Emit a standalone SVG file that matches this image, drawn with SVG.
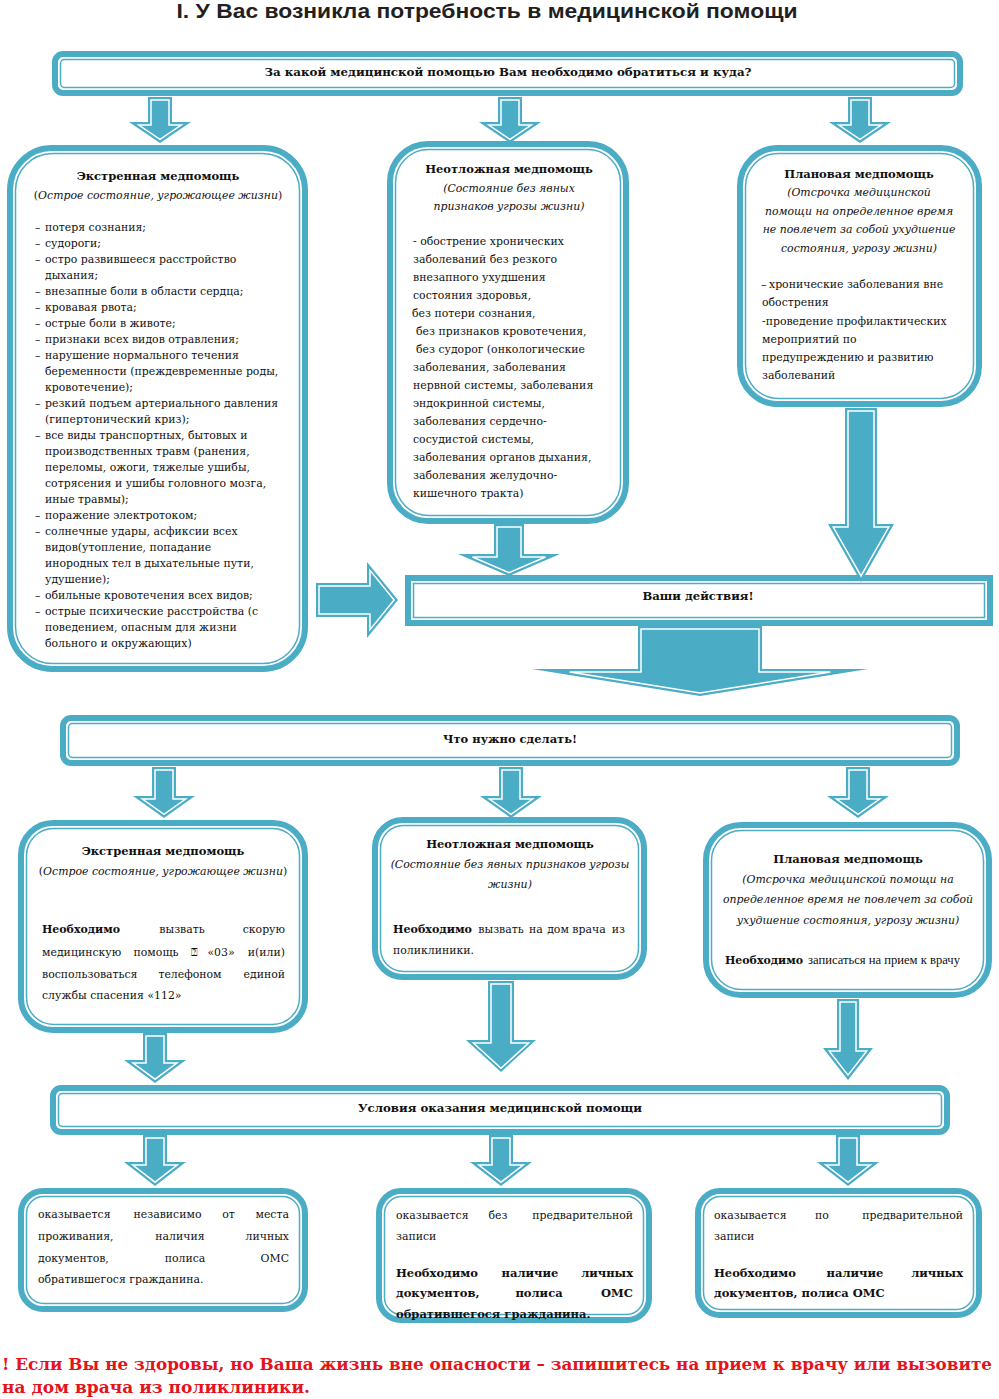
<svg xmlns="http://www.w3.org/2000/svg" width="999" height="1399" viewBox="0 0 999 1399">
<style>
.box{fill:#fff;stroke:#4BACC6;stroke-width:6}
.in{fill:none;stroke:#4BACC6;stroke-width:1.5}
.arr{fill:#4BACC6}
.ain{fill:none;stroke:#fff;stroke-width:1.5;stroke-linejoin:miter}
text{font-family:"DejaVu Serif",serif;font-size:10.9px;fill:#111}
.b{font-weight:bold;font-size:11.5px}
.i{font-style:italic}
.m{text-anchor:middle}
.e{text-anchor:end}
.h{font-weight:bold;font-size:11.8px}
.tn{font-family:"Liberation Serif",serif;font-size:12.5px}
.red{font-weight:bold;font-size:16.4px;fill:#e3141b}
.title{font-family:"Liberation Sans",Arial,sans-serif;font-weight:bold;font-size:21px;fill:#231f20}
</style>

<text class="title m" x="487" y="18" textLength="621" lengthAdjust="spacingAndGlyphs">I. У Вас возникла потребность в медицинской помощи</text>

<g id="node-top">
<rect class="box" x="55" y="54" width="905" height="39" rx="8"/>
<rect class="in" x="60.5" y="59.5" width="894" height="28" rx="4"/>
<text class="h m" x="508" y="76" textLength="487" lengthAdjust="spacingAndGlyphs">За какой медицинской помощью Вам необходимо обратиться и куда?</text>
</g>

<g id="node-emerg">
<rect class="box" x="10" y="148" width="295" height="521" rx="42"/>
<rect class="in" x="15.5" y="153.5" width="284" height="510" rx="37"/>
<text class="b m" x="158" y="180">Экстренная медпомощь</text>
<text class="m" x="158" y="199">(<tspan class="i">Острое состояние, угрожающее жизни</tspan>)</text>
<g>
<text x="35" y="230.5">–</text><text x="45" y="230.5">потеря сознания;</text>
<text x="35" y="246.5">–</text><text x="45" y="246.5">судороги;</text>
<text x="35" y="262.5">–</text><text x="45" y="262.5">остро развившееся расстройство</text>
<text x="45" y="278.5">дыхания;</text>
<text x="35" y="294.5">–</text><text x="45" y="294.5">внезапные боли в области сердца;</text>
<text x="35" y="310.5">–</text><text x="45" y="310.5">кровавая рвота;</text>
<text x="35" y="326.5">–</text><text x="45" y="326.5">острые боли в животе;</text>
<text x="35" y="342.5">–</text><text x="45" y="342.5">признаки всех видов отравления;</text>
<text x="35" y="358.5">–</text><text x="45" y="358.5">нарушение нормального течения</text>
<text x="45" y="374.5">беременности (преждевременные роды,</text>
<text x="45" y="390.5">кровотечение);</text>
<text x="35" y="406.5">–</text><text x="45" y="406.5">резкий подъем артериального давления</text>
<text x="45" y="422.5">(гипертонический криз);</text>
<text x="35" y="438.5">–</text><text x="45" y="438.5">все виды транспортных, бытовых и</text>
<text x="45" y="454.5">производственных травм (ранения,</text>
<text x="45" y="470.5">переломы, ожоги, тяжелые ушибы,</text>
<text x="45" y="486.5">сотрясения и ушибы головного мозга,</text>
<text x="45" y="502.5">иные травмы);</text>
<text x="35" y="518.5">–</text><text x="45" y="518.5">поражение электротоком;</text>
<text x="35" y="534.5">–</text><text x="45" y="534.5">солнечные удары, асфиксии всех</text>
<text x="45" y="550.5">видов(утопление, попадание</text>
<text x="45" y="566.5">инородных тел в дыхательные пути,</text>
<text x="45" y="582.5">удушение);</text>
<text x="35" y="598.5">–</text><text x="45" y="598.5">обильные кровотечения всех видов;</text>
<text x="35" y="614.5">–</text><text x="45" y="614.5">острые психические расстройства (с</text>
<text x="45" y="630.5">поведением, опасным для жизни</text>
<text x="45" y="646.5">больного и окружающих)</text>
</g>
</g>

<g id="node-urgent">
<rect class="box" x="390" y="144" width="236" height="377" rx="38"/>
<rect class="in" x="395.5" y="149.5" width="225" height="366" rx="33"/>
<text class="b m" x="509" y="173">Неотложная медпомощь</text>
<text class="i m" x="509" y="192">(Состояние без явных</text>
<text class="i m" x="509" y="210">признаков угрозы жизни)</text>
<text x="413" y="245">- обострение хронических</text>
<text x="413" y="263">заболеваний без резкого</text>
<text x="413" y="281">внезапного ухудшения</text>
<text x="413" y="299">состояния здоровья,</text>
<text x="412" y="317">без потери сознания,</text>
<text x="416" y="335">без признаков кровотечения,</text>
<text x="416" y="353">без судорог (онкологические</text>
<text x="413" y="371">заболевания, заболевания</text>
<text x="413" y="389">нервной системы, заболевания</text>
<text x="413" y="407">эндокринной системы,</text>
<text x="413" y="425">заболевания сердечно-</text>
<text x="413" y="443">сосудистой системы,</text>
<text x="413" y="461">заболевания органов дыхания,</text>
<text x="413" y="479">заболевания желудочно-</text>
<text x="413" y="497">кишечного тракта)</text>
</g>

<g id="node-planned">
<rect class="box" x="740" y="148" width="239" height="256" rx="38"/>
<rect class="in" x="745.5" y="153.5" width="228" height="245" rx="33"/>
<text class="b m" x="859" y="178">Плановая медпомощь</text>
<text class="i m" x="859" y="196">(Отсрочка медицинской</text>
<text class="i m" x="859" y="214.5">помощи на определенное время</text>
<text class="i m" x="859" y="233">не повлечет за собой ухудшение</text>
<text class="i m" x="859" y="251.5">состояния, угрозу жизни)</text>
<text x="761" y="288">–</text><text x="769" y="288">хронические заболевания вне</text>
<text x="762" y="306">обострения</text>
<text x="762" y="324.5">-проведение профилактических</text>
<text x="762" y="342.5">мероприятий по</text>
<text x="762" y="360.5">предупреждению и развитию</text>
<text x="762" y="378.5">заболеваний</text>
</g>

<g id="node-actions">
<rect class="box" x="408" y="578" width="582" height="45"/>
<rect class="in" x="413.5" y="583.5" width="571" height="34"/>
<text class="h m" x="698" y="600" textLength="111" lengthAdjust="spacingAndGlyphs">Ваши действия!</text>
</g>

<g id="node-todo">
<rect class="box" x="63" y="718" width="894" height="45" rx="8"/>
<rect class="in" x="68.5" y="723.5" width="883" height="34" rx="4"/>
<text class="h m" x="510" y="743" textLength="134" lengthAdjust="spacingAndGlyphs">Что нужно сделать!</text>
</g>

<g id="node-emerg2">
<rect class="box" x="21" y="823" width="284" height="207" rx="32"/>
<rect class="in" x="26.5" y="828.5" width="273" height="196" rx="27"/>
<text class="b m" x="163" y="855">Экстренная медпомощь</text>
<text class="m" x="163" y="875">(<tspan class="i">Острое состояние, угрожающее жизни</tspan>)</text>
<text class="b" x="42" y="933" textLength="78" lengthAdjust="spacingAndGlyphs">Необходимо</text>
<text class="m" x="182" y="933">вызвать</text>
<text class="e" x="285" y="933">скорую</text>
<text x="42" y="956">медицинскую</text>
<text class="m" x="156" y="956">помощь</text>
<text class="m" x="194" y="956">⍰</text>
<text class="m" x="221" y="956">«03»</text>
<text class="e" x="285" y="956">и(или)</text>
<text x="42" y="978">воспользоваться</text>
<text class="m" x="190" y="978">телефоном</text>
<text class="e" x="285" y="978">единой</text>
<text x="42" y="999">службы спасения «112»</text>
</g>

<g id="node-urgent2">
<rect class="box" x="375" y="820" width="269" height="157" rx="28"/>
<rect class="in" x="380.5" y="825.5" width="258" height="146" rx="23"/>
<text class="b m" x="510" y="848">Неотложная медпомощь</text>
<text class="i m" x="510" y="868">(Состояние без явных признаков угрозы</text>
<text class="i m" x="510" y="888">жизни)</text>
<text class="b" x="393" y="933" textLength="79" lengthAdjust="spacingAndGlyphs">Необходимо</text>
<text class="m" x="501" y="933">вызвать</text>
<text class="m" x="536" y="933">на</text>
<text class="m" x="558" y="933">дом</text>
<text class="m" x="589" y="933">врача</text>
<text class="e" x="625" y="933">из</text>
<text x="393" y="954">поликлиники.</text>
</g>

<g id="node-planned2">
<rect class="box" x="706" y="825" width="283" height="170" rx="35"/>
<rect class="in" x="711.5" y="830.5" width="272" height="159" rx="30"/>
<text class="b m" x="848" y="863">Плановая медпомощь</text>
<text class="i m" x="848" y="883">(Отсрочка медицинской помощи на</text>
<text class="i m" x="848" y="903">определенное время не повлечет за собой</text>
<text class="i m" x="848" y="924">ухудшение состояния, угрозу жизни)</text>
<text class="b" x="725" y="964" textLength="78" lengthAdjust="spacingAndGlyphs">Необходимо</text>
<text class="tn" x="808" y="964" textLength="152" lengthAdjust="spacingAndGlyphs">записаться на прием к врачу</text>
</g>

<g id="node-conditions">
<rect class="box" x="53" y="1088" width="894" height="44" rx="8"/>
<rect class="in" x="58.5" y="1093.5" width="883" height="33" rx="4"/>
<text class="h m" x="500" y="1112" textLength="284" lengthAdjust="spacingAndGlyphs">Условия оказания медицинской помощи</text>
</g>

<g id="node-cond1">
<rect class="box" x="21" y="1191" width="284" height="118" rx="22"/>
<rect class="in" x="26.5" y="1196.5" width="273" height="107" rx="17"/>
<text x="38" y="1218">оказывается</text>
<text class="m" x="167.5" y="1218">независимо</text>
<text class="m" x="228.5" y="1218">от</text>
<text class="e" x="289" y="1218">места</text>
<text x="38" y="1240">проживания,</text>
<text class="m" x="180" y="1240">наличия</text>
<text class="e" x="289" y="1240">личных</text>
<text x="38" y="1262">документов,</text>
<text class="m" x="185" y="1262">полиса</text>
<text class="e" x="289" y="1262">ОМС</text>
<text x="38" y="1283">обратившегося гражданина.</text>
</g>

<g id="node-cond2">
<rect class="box" x="379" y="1191" width="270" height="129" rx="22"/>
<rect class="in" x="384.5" y="1196.5" width="259" height="118" rx="17"/>
<text x="396" y="1219">оказывается</text>
<text class="m" x="498" y="1219">без</text>
<text class="e" x="633" y="1219">предварительной</text>
<text x="396" y="1240">записи</text>
<text class="b" x="396" y="1277">Необходимо</text>
<text class="b m" x="530" y="1277">наличие</text>
<text class="b e" x="633" y="1277">личных</text>
<text class="b" x="396" y="1297">документов,</text>
<text class="b m" x="539" y="1297">полиса</text>
<text class="b e" x="633" y="1297">ОМС</text>
<text class="b" x="396" y="1318">обратившегося гражданина.</text>
</g>

<g id="node-cond3">
<rect class="box" x="698" y="1191" width="281" height="124" rx="22"/>
<rect class="in" x="703.5" y="1196.5" width="270" height="113" rx="17"/>
<text x="714" y="1219">оказывается</text>
<text class="m" x="822" y="1219">по</text>
<text class="e" x="963" y="1219">предварительной</text>
<text x="714" y="1240">записи</text>
<text class="b" x="714" y="1277">Необходимо</text>
<text class="b m" x="855" y="1277">наличие</text>
<text class="b e" x="963" y="1277">личных</text>
<text class="b" x="714" y="1297">документов, полиса ОМС</text>
</g>

<g id="connectors">
<path class="arr" d="M148,97 H172 V122 H191 L160,143 L129,122 H148 Z"/>
<path class="ain" d="M151,100 H169 V125 H181.2 L160,139.4 L138.8,125 H151 Z"/>
<path class="arr" d="M498,97 H522 V122 H541 L510,143 L479,122 H498 Z"/>
<path class="ain" d="M501,100 H519 V125 H531.2 L510,139.4 L488.8,125 H501 Z"/>
<path class="arr" d="M848,97 H872 V122 H891 L860,143 L829,122 H848 Z"/>
<path class="ain" d="M851,100 H869 V125 H881.2 L860,139.4 L838.8,125 H851 Z"/>

<path class="arr" d="M316,583 H367 V562 L398,600 L367,638 V617 H316 Z"/>
<path class="ain" d="M319,586 H370 V570.4 L394.1,600 L370,629.6 V614 H319 Z"/>
<path class="arr" d="M494,524 H524 V554 H560 L509,576 L458,554 H494 Z"/>
<path class="ain" d="M497,527 H521 V557 H545.5 L509,572.7 L472.5,557 H497 Z"/>
<path class="arr" d="M845,408 H877 V524 H894 L861,582 L828,524 H845 Z"/>
<path class="ain" d="M848,411 H874 V527 H888.8 L861,575.9 L833.2,527 H848 Z"/>
<path class="arr" d="M638,626 H762 V669 H868 L700,696 L532,669 H638 Z"/>
<path class="ain" d="M641,629 H759 V672 H830.4 L700,693 L569.6,672 H641 Z"/>

<path class="arr" d="M152,767 H176 V796 H195 L164,818 L133,796 H152 Z"/>
<path class="ain" d="M155,770 H173 V799 H185.6 L164,814.3 L142.4,799 H155 Z"/>
<path class="arr" d="M499,767 H523 V796 H542 L511,818 L480,796 H499 Z"/>
<path class="ain" d="M502,770 H520 V799 H532.6 L511,814.3 L489.4,799 H502 Z"/>
<path class="arr" d="M846,767 H870 V796 H889 L858,818 L827,796 H846 Z"/>
<path class="ain" d="M849,770 H867 V799 H879.6 L858,814.3 L836.4,799 H849 Z"/>

<path class="arr" d="M143,1033 H167 V1060 H186 L155,1083 L124,1060 H143 Z"/>
<path class="ain" d="M146,1036 H164 V1063 H176.9 L155,1079.2 L133.1,1063 H146 Z"/>
<path class="arr" d="M488,981 H514 V1040 H536 L501,1072 L466,1040 H488 Z"/>
<path class="ain" d="M491,984 H511 V1043 H528.6 L501,1068.3 L473.4,1043 H491 Z"/>
<path class="arr" d="M837,999 H859 V1048 H873 L848,1080 L823,1048 H837 Z"/>
<path class="ain" d="M840,1002 H856 V1051 H866.8 L848,1075.1 L829.2,1051 H840 Z"/>

<path class="arr" d="M143,1135 H167 V1162 H186 L155,1186 L124,1162 H143 Z"/>
<path class="ain" d="M146,1138 H164 V1165 H177.2 L155,1182.2 L132.8,1165 H146 Z"/>
<path class="arr" d="M489,1135 H513 V1162 H532 L501,1186 L470,1162 H489 Z"/>
<path class="ain" d="M492,1138 H510 V1165 H523.2 L501,1182.2 L478.8,1165 H492 Z"/>
<path class="arr" d="M836,1135 H860 V1162 H879 L848,1186 L817,1162 H836 Z"/>
<path class="ain" d="M839,1138 H857 V1165 H870.2 L848,1182.2 L825.8,1165 H839 Z"/>
</g>

<g id="note">
<text class="red" x="2" y="1370" textLength="990" lengthAdjust="spacingAndGlyphs">! Если Вы не здоровы, но Ваша жизнь вне опасности – запишитесь на прием к врачу или вызовите</text>
<text class="red" x="2" y="1393" textLength="308" lengthAdjust="spacingAndGlyphs">на дом врача из поликлиники.</text>
</g>
</svg>
